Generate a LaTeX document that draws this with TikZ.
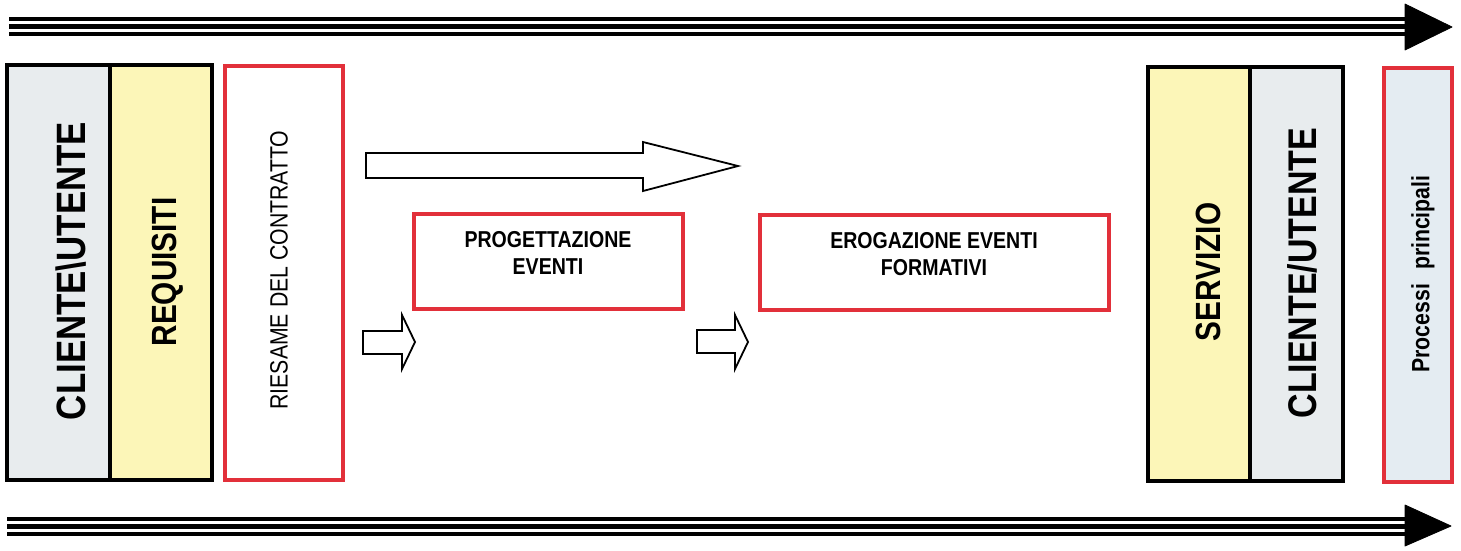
\documentclass[tikz,border=0pt]{standalone}
\usepackage{fontspec}
\setmainfont{Liberation Sans}
\newfontfamily\cond[FakeStretch=0.85]{Liberation Sans}
\definecolor{cgrey}{RGB}{232,236,238}
\definecolor{cyell}{RGB}{252,246,184}
\definecolor{cblue}{RGB}{228,236,242}
\definecolor{cred}{RGB}{226,48,58}
\tikzset{
  blackbox/.style={draw=black, line width=3.4pt},
  redbox/.style={draw=cred, line width=3.4pt, fill=white},
  vlabel/.style={rotate=90, inner sep=0pt, text=black},
  hlabel/.style={inner sep=0pt, align=center, text=black},
  blockarrow/.style={draw=black, line width=1.8pt, fill=white, line join=miter},
  railline/.style={draw=black, line width=4.4pt},
  railhead/.style={fill=black, draw=black, line width=0.8pt, line join=round}
}
\newcommand{\fsz}[1]{\fontsize{#1}{#1}\selectfont}
\begin{document}
\begin{tikzpicture}[x=1pt,y=-1pt]
\useasboundingbox (0,0) rectangle (1461,550);
\fill[white] (0,0) rectangle (1461,550);

% top rail arrow
\foreach \yy in {19,26.5,34} \draw[railline] (9,\yy) -- (1407,\yy);
\coordinate (topTip) at (1452,27);
\fill[railhead] (1405,4) -- (topTip) -- (1405,50) -- cycle;

% bottom rail arrow
\foreach \yy in {519,526.5,534} \draw[railline] (7,\yy) -- (1407,\yy);
\coordinate (botTip) at (1451,526);
\fill[railhead] (1405,505) -- (botTip) -- (1405,546) -- cycle;

% left boxes
\path[fill=cgrey] (7,65) rectangle (110,480);
\path[fill=cyell] (110,65) rectangle (212,480);
\draw[blackbox] (7,65) rectangle (212,480);
\draw[blackbox] (110,65) -- (110,480);
\node[vlabel, font=\cond\bfseries\fsz{41}] (cliente1) at (71,271) {CLIENTE\textbackslash UTENTE};
\node[vlabel, font=\cond\bfseries\fsz{35}] (requisiti) at (168,272) {REQUISITI};

\draw[redbox] (225,66) rectangle (343,480);
\node[vlabel, font=\cond\fsz{25}] (riesame) at (279,270) {RIESAME DEL CONTRATTO};

% right boxes
\path[fill=cyell] (1148,67) rectangle (1250,481);
\path[fill=cgrey] (1250,67) rectangle (1343,481);
\draw[blackbox] (1148,67) rectangle (1343,481);
\draw[blackbox] (1250,67) -- (1250,481);
\node[vlabel, font=\cond\bfseries\fsz{35}] (servizio) at (1208,272) {SERVIZIO};
\node[vlabel, font=\cond\bfseries\fsz{40}] (cliente2) at (1302,273) {CLIENTE/UTENTE};

\draw[redbox, fill=cblue] (1384,68) rectangle (1452,482);
\node[vlabel, font=\cond\bfseries\fsz{25}] (processi) at (1423,274) {Processi\hspace{14pt}principali};

% process boxes
\draw[redbox] (414,214) rectangle (683,309);
\node[hlabel, font=\cond\bfseries\fsz{23}] (prog) at (548,253) {PROGETTAZIONE\\[4pt]EVENTI};
\draw[redbox] (760,215) rectangle (1109,310);
\node[hlabel, font=\cond\bfseries\fsz{23}] (erog) at (934,254) {EROGAZIONE EVENTI\\[4pt]FORMATIVI};

% big hollow arrow
\draw[blockarrow] (366,153) -- (643,153) -- (643,142) -- (738,166) -- (643,191) -- (643,178) -- (366,178) -- cycle;

% small hollow arrows
\draw[blockarrow] (363,331) -- (402,331) -- (402,315) -- (415,342) -- (402,369) -- (402,354) -- (363,354) -- cycle;
\draw[blockarrow] (697,330) -- (735,330) -- (735,315) -- (748,342) -- (735,369) -- (735,353) -- (697,353) -- cycle;
\end{tikzpicture}
\end{document}
